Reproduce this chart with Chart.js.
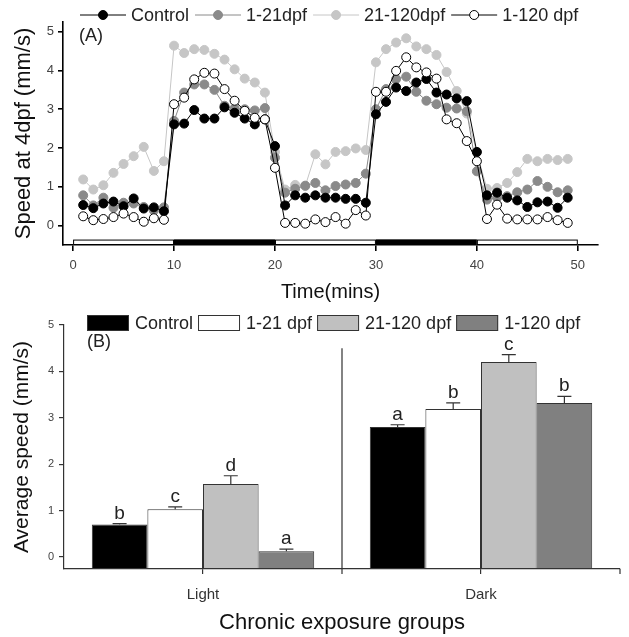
<!DOCTYPE html>
<html>
<head>
<meta charset="utf-8">
<script src="https://cdn.jsdelivr.net/npm/chart.js@4.4.1/dist/chart.umd.min.js"></script>
<style>
  html, body { margin: 0; padding: 0; background: #fff; }
  .panel { position: absolute; left: 0; width: 629px; }
  #panelA { top: 0; height: 310px; }
  #panelB { top: 300px; height: 337px; }
</style>
</head>
<body>
<div class="panel" id="panelA"><canvas id="timeChart"></canvas></div>
<div class="panel" id="panelB"><canvas id="barChart"></canvas></div>
<script>
const FONT = '"Liberation Sans", Arial, sans-serif';
Chart.defaults.font.family = FONT;
Chart.defaults.color = "#333";

// =================== Panel A data ===================
const minutes = [1, 2, 3, 4, 5, 6, 7, 8, 9, 10, 11, 12, 13, 14, 15, 16, 17, 18, 19, 20,
  21, 22, 23, 24, 25, 26, 27, 28, 29, 30, 31, 32, 33, 34, 35, 36, 37, 38, 39, 40,
  41, 42, 43, 44, 45, 46, 47, 48, 49];

const controlSpeed = [0.53, 0.45, 0.57, 0.62, 0.50, 0.70, 0.44, 0.47, 0.37, 2.61,
  2.63, 2.98, 2.76, 2.76, 3.05, 2.91, 2.76, 2.61, 2.74, 2.05,
  0.52, 0.78, 0.72, 0.78, 0.72, 0.72, 0.69, 0.69, 0.59, 2.87,
  3.19, 3.56, 3.47, 3.69, 3.78, 3.43, 3.38, 3.28, 3.21, 1.90,
  0.78, 0.85, 0.72, 0.65, 0.48, 0.60, 0.62, 0.46, 0.72];

const dpf1to21Speed = [0.78, 0.52, 0.72, 0.46, 0.59, 0.57, 0.48, 0.39, 0.47, 2.70,
  3.43, 3.64, 3.64, 3.50, 3.09, 3.02, 3.00, 2.97, 3.03, 1.75,
  0.85, 0.95, 1.03, 1.10, 0.91, 1.02, 1.06, 1.10, 1.34, 3.00,
  3.52, 3.78, 3.84, 3.45, 3.22, 3.13, 3.04, 3.02, 2.95, 1.40,
  0.67, 0.72, 0.76, 0.86, 0.93, 1.15, 1.00, 0.86, 0.91];

const dpf21to120Speed = [1.19, 0.93, 1.04, 1.36, 1.59, 1.79, 2.03, 1.41, 1.66, 4.64,
  4.45, 4.55, 4.53, 4.43, 4.28, 4.03, 3.79, 3.69, 3.43, 1.90,
  0.93, 1.05, 1.02, 1.84, 1.58, 1.90, 1.92, 1.99, 1.95, 4.21,
  4.55, 4.72, 4.83, 4.62, 4.55, 4.40, 3.96, 3.47, 2.89, 1.88,
  0.95, 0.97, 1.10, 1.38, 1.72, 1.66, 1.72, 1.69, 1.72];

const dpf1to120Speed = [0.24, 0.14, 0.17, 0.22, 0.31, 0.22, 0.10, 0.19, 0.15, 3.13,
  3.30, 3.77, 3.94, 3.92, 3.52, 3.22, 2.96, 2.78, 2.74, 1.49,
  0.07, 0.07, 0.05, 0.16, 0.09, 0.22, 0.05, 0.40, 0.26, 3.45,
  3.45, 3.99, 4.34, 4.08, 3.95, 3.79, 2.74, 2.64, 2.18, 1.66,
  0.17, 0.54, 0.18, 0.16, 0.16, 0.16, 0.22, 0.14, 0.07];

const timeTicks = [0, 10, 20, 30, 40, 50];
const speedTicks = [0, 1, 2, 3, 4, 5];
const phaseEdges = [0, 10, 20, 30, 40, 50];
const phaseDark = [false, true, false, true, false];

// =================== Panel B data ===================
const phases = ["Light", "Dark"];
const groupNames = ["Control", "1-21 dpf", "21-120 dpf", "1-120 dpf"];
const controlAvg = [0.70, 2.80];
const dpf1to21Avg = [1.03, 3.19];
const dpf21to120Avg = [1.57, 4.20];
const dpf1to120Avg = [0.12, 3.32];
const controlErr = [0.02, 0.05];
const dpf1to21Err = [0.05, 0.13];
const dpf21to120Err = [0.18, 0.16];
const dpf1to120Err = [0.05, 0.14];
const controlLetters = ["b", "a"];
const dpf1to21Letters = ["c", "b"];
const dpf21to120Letters = ["d", "c"];
const dpf1to120Letters = ["a", "b"];
const avgTicks = [0, 1, 2, 3, 4, 5];

// -------- Panel A: time course --------

function lineSet(label, values, lineColor, fill, edge, order) {
  return {
    label: label,
    data: values.map((v, i) => ({ x: minutes[i], y: v })),
    borderColor: lineColor,
    borderWidth: 1,
    pointBackgroundColor: fill,
    pointBorderColor: edge,
    pointBorderWidth: 1,
    pointRadius: 4.5,
    order: order,
  };
}

// line + marker legend, and the (A) tag
const legendA = {
  id: "legendA",
  afterDraw(chart) {
    const ctx = chart.ctx;
    let x = 80;
    const y = 15;
    ctx.save();
    ctx.font = "18px " + FONT;
    ctx.textBaseline = "middle";
    chart.data.datasets.forEach((ds) => {
      ctx.lineWidth = 1;
      ctx.strokeStyle = ds.borderColor;
      ctx.beginPath();
      ctx.moveTo(x, y);
      ctx.lineTo(x + 46, y);
      ctx.stroke();
      ctx.beginPath();
      ctx.arc(x + 23, y, 4.5, 0, Math.PI * 2);
      ctx.fillStyle = ds.pointBackgroundColor;
      ctx.fill();
      ctx.strokeStyle = ds.pointBorderColor;
      ctx.stroke();
      ctx.fillStyle = "#222";
      ctx.fillText(ds.label, x + 51, y + 1);
      x += 51 + ctx.measureText(ds.label).width + 6;
    });
    ctx.fillText("(A)", 79, 36);
    ctx.restore();
  },
};

// light / dark bar along the time axis
const phaseBand = {
  id: "phaseBand",
  afterDatasetsDraw(chart) {
    const xs = chart.scales.x;
    const ys = chart.scales.y;
    const ctx = chart.ctx;
    const top = ys.getPixelForValue(-0.36);
    const bottom = ys.getPixelForValue(-0.5);
    ctx.save();
    ctx.lineWidth = 1;
    ctx.strokeStyle = "#000";
    for (let i = 0; i < phaseDark.length; i++) {
      const x0 = xs.getPixelForValue(phaseEdges[i]);
      const x1 = xs.getPixelForValue(phaseEdges[i + 1]);
      ctx.fillStyle = phaseDark[i] ? "#000" : "#fff";
      ctx.fillRect(x0, top, x1 - x0, bottom - top);
      ctx.strokeRect(x0 + 0.5, top + 0.5, x1 - x0 - 1, bottom - top - 1);
    }
    ctx.restore();
  },
};

new Chart(document.getElementById("timeChart"), {
  type: "line",
  data: {
    datasets: [
      lineSet("Control", controlSpeed, "#000", "#000", "#000", 1),
      lineSet("1-21dpf", dpf1to21Speed, "#8a8a8a", "#8a8a8a", "#8a8a8a", 2),
      lineSet("21-120dpf", dpf21to120Speed, "#c6c6c6", "#c6c6c6", "#c6c6c6", 3),
      lineSet("1-120 dpf", dpf1to120Speed, "#000", "#fff", "#000", 0),
    ],
  },
  options: {
    responsive: true,
    maintainAspectRatio: false,
    animation: false,
    layout: { padding: { top: 22, right: 31 } },
    plugins: { legend: { display: false }, tooltip: { enabled: false } },
    scales: {
      x: {
        type: "linear",
        min: -1,
        max: 52,
        afterBuildTicks: (s) => { s.ticks = timeTicks.map((v) => ({ value: v })); },
        afterFit: (s) => { s.height = 65; },
        border: { color: "#000", width: 1.6 },
        grid: { drawOnChartArea: false, tickLength: 6, color: "#000", lineWidth: 1.6 },
        ticks: { font: { size: 13 }, color: "#444", padding: 7, maxRotation: 0 },
        title: { display: true, text: "Time(mins)", font: { size: 20 }, color: "#111", padding: { top: 0, bottom: 6 } },
      },
      y: {
        min: -0.5,
        max: 5.25,
        afterBuildTicks: (s) => { s.ticks = speedTicks.map((v) => ({ value: v })); },
        afterFit: (s) => { s.width = 63; },
        border: { color: "#000", width: 1.6 },
        grid: { drawOnChartArea: false, tickLength: 5, color: "#000", lineWidth: 1.6 },
        ticks: { font: { size: 13 }, color: "#444", padding: 4 },
        title: { display: true, text: "Speed at 4dpf (mm/s)", font: { size: 22 }, color: "#111", padding: { top: 11, bottom: 0 } },
      },
    },
  },
  plugins: [phaseBand, legendA],
});

// -------- Panel B: average speed bars --------

const errorSets = [controlErr, dpf1to21Err, dpf21to120Err, dpf1to120Err];
const letterSets = [controlLetters, dpf1to21Letters, dpf21to120Letters, dpf1to120Letters];
const avgMin = -0.26;

function barSet(label, values, color) {
  return {
    label: label,
    data: values,
    backgroundColor: color,
    borderColor: "#333",
    borderWidth: 1,
    borderSkipped: false,
    base: avgMin,
  };
}

const barExtras = {
  id: "barExtras",
  afterDatasetsDraw(chart) {
    const ctx = chart.ctx;
    const ys = chart.scales.y;
    const xs = chart.scales.x;
    const area = chart.chartArea;
    ctx.save();
    ctx.strokeStyle = "#333";
    ctx.fillStyle = "#222";
    ctx.lineWidth = 1.2;
    ctx.font = "19px " + FONT;
    ctx.textAlign = "center";
    ctx.textBaseline = "alphabetic";
    chart.data.datasets.forEach((ds, d) => {
      chart.getDatasetMeta(d).data.forEach((bar, i) => {
        const capY = ys.getPixelForValue(ds.data[i] + errorSets[d][i]);
        ctx.beginPath();
        ctx.moveTo(bar.x, bar.y);
        ctx.lineTo(bar.x, capY);
        ctx.moveTo(bar.x - 7, capY);
        ctx.lineTo(bar.x + 7, capY);
        ctx.stroke();
        ctx.fillText(letterSets[d][i], bar.x, capY - 5);
      });
    });

    // separator between Light and Dark, and end tick
    const midX = (xs.getPixelForValue(0) + xs.getPixelForValue(1)) / 2;
    ctx.beginPath();
    ctx.moveTo(midX, ys.getPixelForValue(4.5));
    ctx.lineTo(midX, area.bottom + 5);
    ctx.moveTo(area.right, area.bottom);
    ctx.lineTo(area.right, area.bottom + 5);
    ctx.stroke();

    // legend boxes and (B) tag
    let x = 87;
    const y = 23;
    ctx.font = "18px " + FONT;
    ctx.textAlign = "left";
    ctx.textBaseline = "middle";
    ctx.lineWidth = 1;
    chart.data.datasets.forEach((ds) => {
      ctx.fillStyle = ds.backgroundColor;
      ctx.fillRect(x, y - 8, 42, 16);
      ctx.strokeRect(x + 0.5, y - 7.5, 41, 15);
      ctx.fillStyle = "#222";
      ctx.fillText(ds.label, x + 48, y + 1);
      x += 48 + ctx.measureText(ds.label).width + 5;
    });
    ctx.fillText("(B)", 87, 42);
    ctx.restore();
  },
};

new Chart(document.getElementById("barChart"), {
  type: "bar",
  data: {
    labels: phases,
    datasets: [
      barSet(groupNames[0], controlAvg, "#000000"),
      barSet(groupNames[1], dpf1to21Avg, "#ffffff"),
      barSet(groupNames[2], dpf21to120Avg, "#c0c0c0"),
      barSet(groupNames[3], dpf1to120Avg, "#808080"),
    ],
  },
  options: {
    responsive: true,
    maintainAspectRatio: false,
    animation: false,
    layout: { padding: { top: 25, right: 9 } },
    datasets: { bar: { categoryPercentage: 0.8, barPercentage: 1.0 } },
    plugins: { legend: { display: false }, tooltip: { enabled: false } },
    scales: {
      x: {
        afterFit: (s) => { s.height = 68; },
        border: { color: "#333", width: 1.2 },
        grid: { offset: false, drawOnChartArea: false, tickLength: 5, color: "#333", lineWidth: 1.2 },
        ticks: { font: { size: 15 }, color: "#333", padding: 12 },
        title: { display: true, text: "Chronic exposure groups", font: { size: 22 }, color: "#111", padding: { top: 0, bottom: 1 } },
      },
      y: {
        min: avgMin,
        max: 5,
        afterBuildTicks: (s) => { s.ticks = avgTicks.map((v) => ({ value: v })); },
        afterFit: (s) => { s.width = 64; },
        border: { color: "#333", width: 1.2 },
        grid: { drawOnChartArea: false, tickLength: 5, color: "#333", lineWidth: 1.2 },
        ticks: { font: { size: 11 }, color: "#444", padding: 5 },
        title: { display: true, text: "Average speed (mm/s)", font: { size: 21 }, color: "#111", padding: { top: 10, bottom: 0 } },
      },
    },
  },
  plugins: [barExtras],
});
</script>
</body>
</html>
